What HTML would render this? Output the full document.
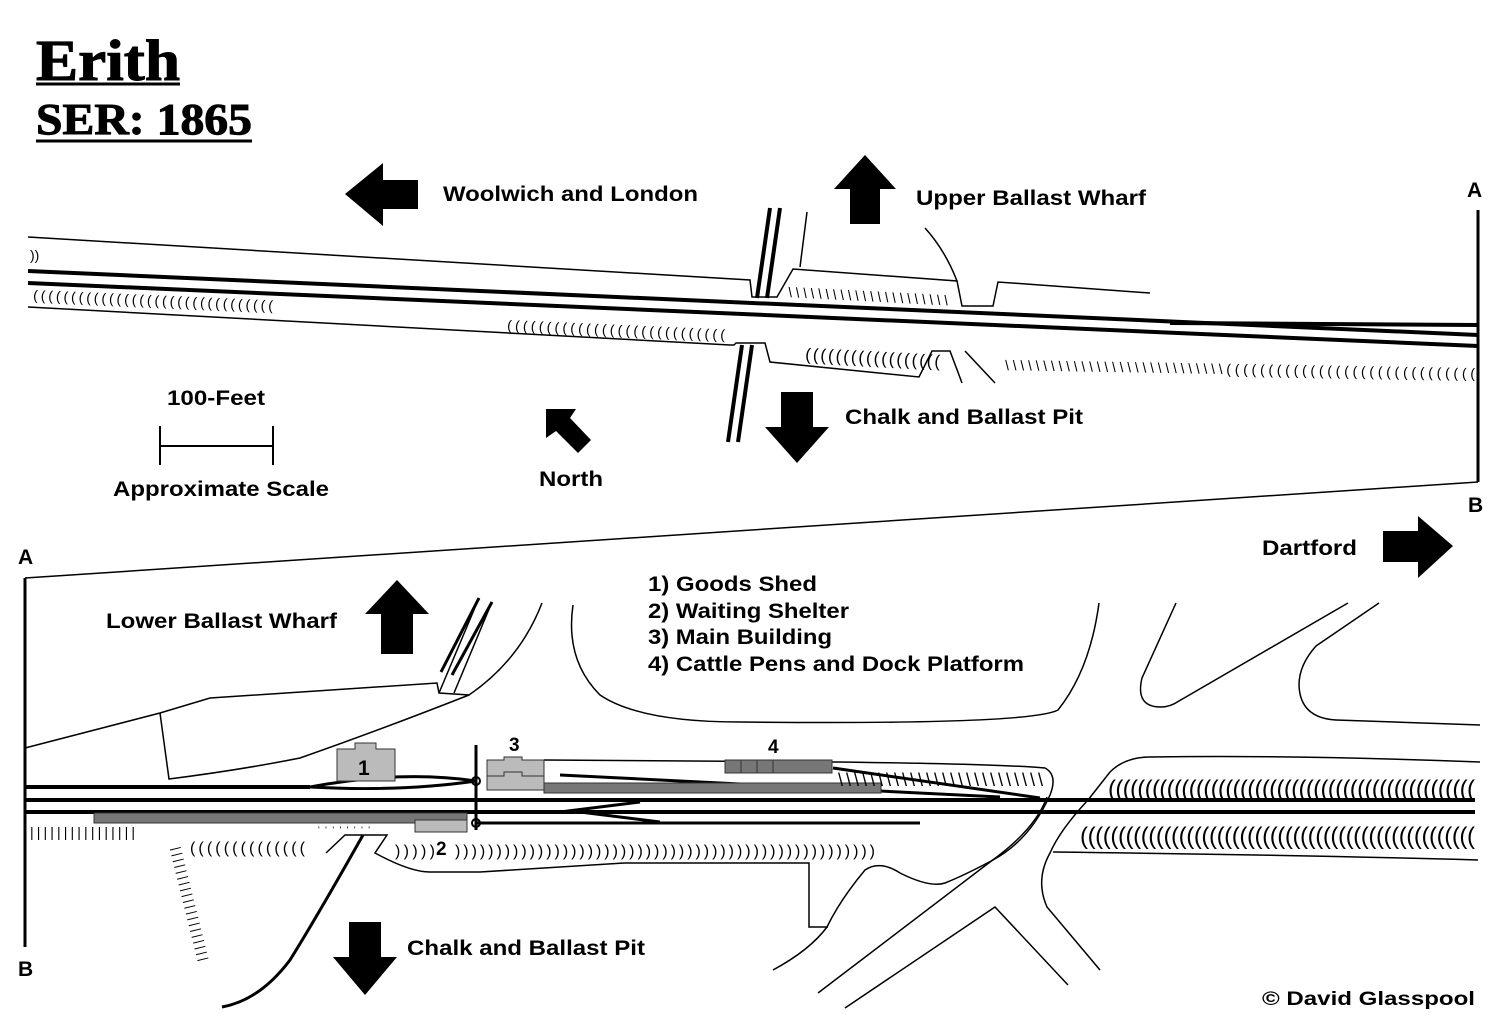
<!DOCTYPE html>
<html><head><meta charset="utf-8"><style>
body{margin:0;background:#fff}
svg{display:block}
text{font-family:"Liberation Sans",sans-serif;font-weight:bold;font-size:21px;fill:#000}
.h{font-family:"Liberation Sans",sans-serif;font-weight:normal;font-size:14px}
.t{font-family:"Liberation Serif",serif}
</style></head><body>
<svg width="1500" height="1029" viewBox="0 0 1500 1029" xmlns="http://www.w3.org/2000/svg">
<g fill="none" stroke="#000">
<text class="t" x="36" y="80" style="font-size:58px" textLength="144" lengthAdjust="spacingAndGlyphs">Erith</text>
<line x1="36" y1="84" x2="180" y2="84" stroke-width="3"/>
<text class="t" x="36" y="134" style="font-size:44px" textLength="216" lengthAdjust="spacingAndGlyphs">SER: 1865</text>
<line x1="36" y1="141" x2="252" y2="141" stroke-width="3"/>

<path d="M28,237 L750,280 L752,297 L777,297 L793,269 L957,281 L962,306 L993,306 L998,282 L1150,293" stroke-width="1.5"/>
<path d="M800,267 L807,212 M957,281 Q945,250 925,228" stroke-width="1.5"/>
<path d="M28,307 L730,345 L734,345 L736,343 L765,343 L770,362 L919,377 L932,351 L950,351 L962,383" stroke-width="1.5"/>
<path d="M965,351 L995,383" stroke-width="1.5"/>
<path d="M28,271 L1478,335" stroke-width="4"/>
<path d="M28,283 L1478,346" stroke-width="4"/>
<path d="M1170,323 L1478,325" stroke-width="4"/>
<path d="M770,208 L757,298 M780,208 L767,298 M742,345 L728,442 M752,345 L738,442" stroke-width="4"/>
<line x1="1478" y1="210" x2="1478" y2="482" stroke-width="3"/>
<line x1="25" y1="578" x2="1478" y2="482" stroke-width="1.5"/>
<line x1="25" y1="578" x2="25" y2="947" stroke-width="3"/>
<path d="M160,426 V465 M273,426 V465 M160,446 H273" stroke-width="2"/>
</g>
<g fill="#000">
<text class="h" x="30" y="260">))</text>
<text class="h" x="33" y="300" transform="rotate(2.5 33 300)" textLength="240" lengthAdjust="spacing">((((((((((((((((((((((((((((((((</text>
<text class="h" x="507" y="330" transform="rotate(2.5 507 330)" textLength="218" lengthAdjust="spacing">((((((((((((((((((((((((((((</text>
<text class="h" x="788" y="297" transform="rotate(3 788 297)" textLength="160" lengthAdjust="spacing">\\\\\\\\\\\\\\\\\\\\\\</text>
<text class="h" x="805" y="360" transform="rotate(3 805 360)" style="font-size:17px" textLength="135" lengthAdjust="spacing">((((((((((((((((((</text>
<text class="h" x="1005" y="370" transform="rotate(1 1005 370)" textLength="470" lengthAdjust="spacing">\\\\\\\\\\\\\\\\\\\\\\\\\\\\\((((((((((((((((((((((((((((((</text>
</g>
<g fill="#000">
<polygon points="345,194 383,163 383,180 418,180 418,209 383,209 383,226"/>
<polygon points="865,155 896,189 880,189 880,224 850,224 850,189 834,189"/>
<polygon points="797,463 829,427 813,427 813,392 781,392 781,427 765,427"/>
<polygon points="546,409 576,409 570,418 591,440 578,453 556,431 546,438"/>
<polygon points="1453,546 1418,516 1418,531 1383,531 1383,562 1418,562 1418,578"/>
<polygon points="397,580 429,614 413,614 413,654 381,654 381,614 365,614"/>
<polygon points="365,995 397,957 381,957 381,922 349,922 349,957 333,957"/>
</g>
<text x="443" y="201" textLength="255" lengthAdjust="spacingAndGlyphs">Woolwich and London</text>
<text x="916" y="205" textLength="230" lengthAdjust="spacingAndGlyphs">Upper Ballast Wharf</text>
<text x="845" y="424" textLength="238" lengthAdjust="spacingAndGlyphs">Chalk and Ballast Pit</text>
<text x="167" y="405" textLength="98" lengthAdjust="spacingAndGlyphs">100-Feet</text>
<text x="113" y="496" textLength="216" lengthAdjust="spacingAndGlyphs">Approximate Scale</text>
<text x="539" y="486" textLength="64" lengthAdjust="spacingAndGlyphs">North</text>
<text x="1467" y="197">A</text>
<text x="1468" y="512">B</text>
<text x="18" y="564">A</text>
<text x="18" y="976">B</text>
<text x="1262" y="555" textLength="95" lengthAdjust="spacingAndGlyphs">Dartford</text>
<text x="106" y="628" textLength="231" lengthAdjust="spacingAndGlyphs">Lower Ballast Wharf</text>
<text x="648" y="591" textLength="169" lengthAdjust="spacingAndGlyphs">1) Goods Shed</text>
<text x="648" y="618" textLength="201" lengthAdjust="spacingAndGlyphs">2) Waiting Shelter</text>
<text x="648" y="644" textLength="184" lengthAdjust="spacingAndGlyphs">3) Main Building</text>
<text x="648" y="671" textLength="376" lengthAdjust="spacingAndGlyphs">4) Cattle Pens and Dock Platform</text>
<text x="407" y="955" textLength="238" lengthAdjust="spacingAndGlyphs">Chalk and Ballast Pit</text>
<text x="1262" y="1005" style="font-size:19px" textLength="213" lengthAdjust="spacingAndGlyphs">© David Glasspool</text>

<g fill="none" stroke="#000" stroke-width="1.5">
<path d="M25,748 L160,713 L210,698 L437,683 L439,693 L469,695 Q520,660 542,603"/>
<path d="M160,713 L169,779 Q240,770 300,758 Q380,730 469,695"/>
<path d="M573,605 Q565,660 600,695 Q640,722 740,722 Q1030,725 1058,710 Q1090,670 1099,603"/>
<path d="M1176,603 L1142,678 Q1135,707 1161,707 Q1170,707 1179,701 L1348,603"/>
<path d="M1379,603 L1316,646 Q1299,665 1299,685 Q1300,718 1336,720 L1480,725"/>
<path d="M1088,800 L1110,772 Q1125,757 1150,757 Q1300,755 1480,762 M1053,852 Q1300,855 1478,860"/>
<path d="M544,760 L834,762 Q1000,764 1045,768 Q1058,775 1050,795 Q1030,840 993,860 Q965,875 945,883 Q930,888 900,873 Q880,860 865,870 Q840,900 827,927 Q810,950 773,970"/>
<path d="M818,993 L990,862 Q1035,830 1047,797"/>
<path d="M1088,800 Q1060,830 1050,853 Q1035,880 1047,907 L1100,970"/>
<path d="M845,1008 L995,907 L1068,985"/>
<path d="M326,853 L345,835 L387,835 L375,853 Q410,872 430,872 L480,872 L624,863 L809,863 L809,927 L828,927"/>
<path d="M439,693 L479,598 M454,693 L492,602"/>
</g>
<g stroke="#000" fill="none">
<path d="M441,672 L479,598 M452,675 L492,602" stroke-width="3"/>
<path d="M25,787 L310,787 M25,800 L1475,800 M25,812 L1475,812" stroke-width="4"/>
<path d="M310,787 Q400,770 476,781 M310,787 Q400,792 476,781" stroke-width="3"/>
<path d="M560,775 L1000,797 M833,768 L1040,798 M560,812 L640,802 M580,812 L660,822 M476,823 L920,823" stroke-width="3"/>
<path d="M476,745 L476,830" stroke-width="3"/>
<path d="M363,835 Q318,915 290,960 Q260,1000 222,1007" stroke-width="3"/>
<circle cx="476" cy="781" r="4" stroke-width="2"/>
<circle cx="476" cy="823" r="4" stroke-width="2"/>
</g>
<g stroke="#333" stroke-width="1">
<path d="M337,749 H355 V743 H376 V749 H395 V781 H337Z" fill="#bbb"/>
<path d="M487,760 H504 V757 H522 V760 H544 V776 H487Z" fill="#bbb"/>
<path d="M487,776 H504 V772 H522 V776 H544 V790 H487Z" fill="#bbb"/>
<rect x="544" y="783" width="337" height="10" fill="#777"/>
<rect x="94" y="813" width="373" height="10" fill="#777"/>
<rect x="415" y="820" width="52" height="12" fill="#bbb"/>
<rect x="725" y="760" width="107" height="13" fill="#777"/>
<path d="M741,760 V773 M757,760 V773 M773,760 V773"/>
</g>
<text x="358" y="775">1</text>
<text x="509" y="751" style="font-size:19px">3</text>
<text x="768" y="753" style="font-size:19px">4</text>
<text x="436" y="855" style="font-size:19px">2</text>
<g fill="#000">
<text class="h" x="30" y="837" textLength="105" lengthAdjust="spacing">||||||||||||||||</text>
<text class="h" x="190" y="853" style="font-size:16px" textLength="115" lengthAdjust="spacing">((((((((((((((</text>
<text class="h" x="318" y="833" style="font-size:9px" textLength="52" lengthAdjust="spacing">''''''''</text>
<text class="h" x="395" y="856" style="font-size:16px" textLength="40" lengthAdjust="spacing">)))))</text>
<text class="h" x="455" y="856" style="font-size:16px" textLength="420" lengthAdjust="spacing">)))))))))))))))))))))))))))))))))))))))))))))))))))</text>
<text class="h" x="838" y="786" style="font-size:18px" textLength="205" lengthAdjust="spacing">\\\\\\\\\\\\\\\\\\\\\\\\\\</text>
<text class="h" x="1108" y="797" style="font-size:24px" textLength="367" lengthAdjust="spacing">((((((((((((((((((((((((((((((((((((((((((((((((((</text>
<text class="h" x="1080" y="844" style="font-size:24px" textLength="395" lengthAdjust="spacing">((((((((((((((((((((((((((((((((((((((((((((((((((((</text>
<text class="h" x="172" y="848" transform="rotate(76 172 848)" style="font-size:12px" textLength="117" lengthAdjust="spacing">||||||||||||||||||||</text>
</g>
</svg>
</body></html>
